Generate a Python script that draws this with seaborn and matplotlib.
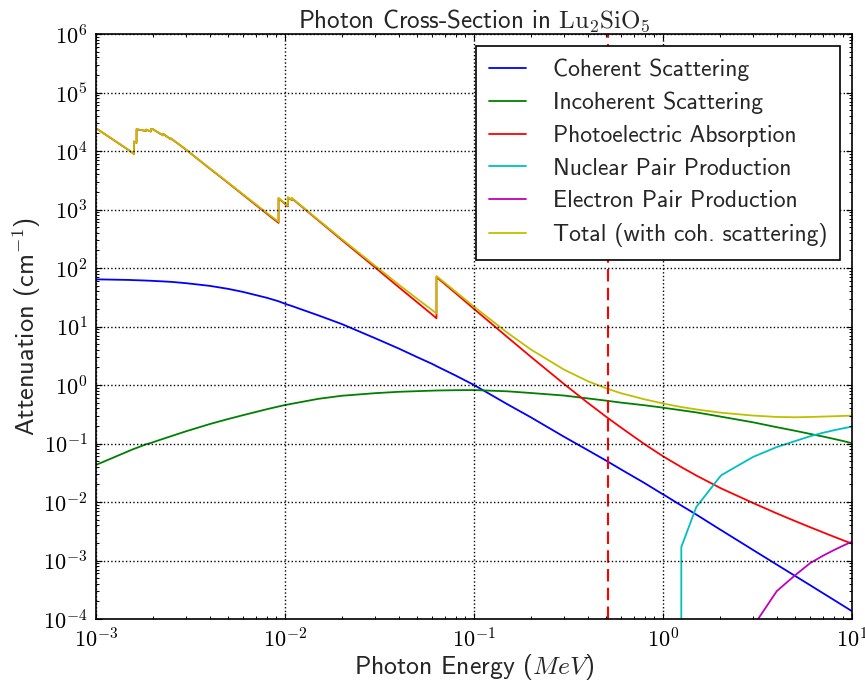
import numpy as np
import pandas as pd
import seaborn as sns
import matplotlib
matplotlib.use("Agg")
import matplotlib.pyplot as plt
from matplotlib.ticker import LogLocator, NullFormatter, FuncFormatter

# ---------------- data ----------------
energy = [1.000e-3, 1.500e-3, 1.588e-3, 1.588e-3, 1.639e-3, 1.639e-3, 1.839e-3, 1.839e-3,
          1.950e-3, 1.950e-3, 2.000e-3, 2.263e-3, 2.263e-3, 2.491e-3, 2.491e-3, 3.000e-3,
          4.000e-3, 5.000e-3, 6.000e-3, 8.000e-3, 9.244e-3, 9.244e-3, 1.000e-2, 1.035e-2,
          1.035e-2, 1.087e-2, 1.087e-2, 1.500e-2, 2.000e-2, 3.000e-2, 4.000e-2, 5.000e-2,
          6.000e-2, 6.331e-2, 6.331e-2, 8.000e-2, 0.1, 0.15, 0.2, 0.3, 0.4, 0.5, 0.6, 0.8,
          1.0, 1.022, 1.25, 1.5, 2.0, 2.044, 3.0, 4.0, 5.0, 6.0, 7.0, 8.0, 9.0, 10.0]

coherent = [64, 62.5, 62, 62, 61.8, 61.8, 61, 61, 60.5, 60.5, 60.2, 59, 59, 58, 58, 55,
            49.5, 44, 39, 31, 27, 27, 24.5, 23.6, 23.6, 22.4, 22.4, 15.5, 11, 6.3, 4.2, 3.0,
            2.3, 2.1, 2.1, 1.45, 1.0, 0.47, 0.28, 0.13, 0.077, 0.051, 0.036, 0.021,
            0.0135, 0.0130, 0.0087, 0.0061, 0.0034, 0.00326, 0.00151, 0.00085, 0.000545,
            0.000379, 0.000278, 0.000213, 0.000168, 0.000136]

incoherent = [0.043, 0.075, 0.081, 0.081, 0.084, 0.084, 0.097, 0.097, 0.102, 0.102, 0.105,
              0.12, 0.12, 0.133, 0.133, 0.162, 0.215, 0.262, 0.305, 0.385, 0.429, 0.429,
              0.455, 0.464, 0.464, 0.478, 0.478, 0.58, 0.655, 0.725, 0.765, 0.785, 0.80,
              0.805, 0.805, 0.815, 0.82, 0.78, 0.73, 0.66, 0.59, 0.54, 0.50, 0.45, 0.41,
              0.405, 0.37, 0.34, 0.29, 0.286, 0.23, 0.19, 0.165, 0.146, 0.132, 0.12, 0.11,
              0.101]

photoelectric = [2.45e4, 1.02e4, 8.9e3, 1.45e4, 1.38e4, 2.35e4, 2.2e4, 2.32e4, 2.15e4, 2.38e4,
                 2.35e4, 1.85e4, 1.97e4, 1.58e4, 1.64e4, 1.05e4, 5.0e3, 2.85e3, 1.78e3, 850,
                 590, 1550, 1250, 1130, 1600, 1450, 1550, 650, 300, 102, 47, 26, 16, 13.8, 70,
                 37, 20, 6.6, 3.03, 1.036, 0.496, 0.287, 0.187, 0.097, 0.0605, 0.058, 0.0395,
                 0.0284, 0.0175, 0.0169, 0.0096, 0.00638, 0.00472, 0.00371, 0.00304,
                 0.00256, 0.00221, 0.00194]

total = [2.456e4, 1.026e4, 8962, 14562, 13862, 23562, 22061, 23261, 21561, 23861, 23560,
         18559, 19759, 15858, 16458, 10555, 5050, 2894, 1819, 881, 617.5, 1577.5, 1275,
         1154, 1624, 1473, 1573, 666, 311.6, 109, 51.95, 29.78, 19.1, 16.7, 72.9, 39.3,
         21.8, 7.85, 4.04, 1.826, 1.163, 0.878, 0.723, 0.568, 0.484, 0.476, 0.4199,
         0.3827, 0.3379, 0.3352, 0.3002, 0.2845, 0.2808, 0.2840, 0.2885, 0.2923, 0.2962,
         0.2992]

pair_energy = [1.022, 1.25, 1.5, 2.0, 2.044, 3.0, 4.0, 5.0, 6.0, 7.0, 8.0, 9.0, 10.0]
nuclear_pair = [0.0, 1.7e-3, 8.2e-3, 0.027, 0.029, 0.059, 0.087, 0.11, 0.133, 0.152,
                0.168, 0.182, 0.194]
electron_pair = [0.0, 0.0, 0.0, 0.0, 0.0, 7.5e-5, 3.0e-4, 5.6e-4, 9.0e-4, 1.2e-3,
                 1.5e-3, 1.8e-3, 2.1e-3]

annihilation_energy = 0.511

series = [
    ("Coherent Scattering", energy, coherent, (0, 0, 1)),
    ("Incoherent Scattering", energy, incoherent, (0, 0.5, 0)),
    ("Photoelectric Absorption", energy, photoelectric, (1, 0, 0)),
    ("Nuclear Pair Production", pair_energy, nuclear_pair, (0, 0.75, 0.75)),
    ("Electron Pair Production", pair_energy, electron_pair, (0.75, 0, 0.75)),
    ("Total (with coh. scattering)", energy, total, (0.75, 0.75, 0)),
]

# ---------------- style ----------------
sns.set_style("white")
plt.rcParams.update({
    "font.family": ["cmss10", "DejaVu Sans"],
    "mathtext.fontset": "cm",
    "axes.unicode_minus": False,
    "axes.edgecolor": "black",
    "axes.linewidth": 1.2,
    "xtick.direction": "in",
    "ytick.direction": "in",
    "xtick.top": True,
    "ytick.right": True,
    "xtick.bottom": True,
    "ytick.left": True,
    "xtick.major.size": 4.5,
    "ytick.major.size": 4.5,
    "xtick.minor.size": 2.5,
    "ytick.minor.size": 2.5,
    "xtick.major.width": 0.8,
    "ytick.major.width": 0.8,
    "xtick.minor.width": 0.7,
    "ytick.minor.width": 0.7,
    "xtick.color": "black",
    "ytick.color": "black",
})

fig = plt.figure(figsize=(8.65, 6.82), dpi=100)
ax = fig.add_axes([96 / 865, 1 - 619 / 682, (852 - 96) / 865, (619 - 34) / 682])
ax.set_xscale("log", nonpositive="clip")
ax.set_yscale("log", nonpositive="clip")

for name, xs, ys, col in series:
    df = pd.DataFrame({"energy": xs, "value": ys})
    sns.lineplot(data=df, x="energy", y="value", color=col, linewidth=1.3,
                 estimator=None, sort=False, label=name, ax=ax)

ax.axvline(annihilation_energy, color=(1, 0, 0), linestyle="--", linewidth=1.5,
           dashes=(6, 3))

ax.set_xlim(1e-3, 10)
ax.set_ylim(1e-4, 1e6)

fmt = FuncFormatter(lambda v, p: r"$\mathsf{10^{%d}}$" % int(round(np.log10(v))))
for axis in (ax.xaxis, ax.yaxis):
    axis.set_major_locator(LogLocator(base=10, numticks=20))
    axis.set_minor_locator(LogLocator(base=10, subs=np.arange(2, 10), numticks=20))
    axis.set_minor_formatter(NullFormatter())
    axis.set_major_formatter(fmt)
ax.tick_params(axis="both", which="major", labelsize=16, pad=6)

ax.grid(True, which="major", color="black", linestyle=":", linewidth=1.0)
ax.set_axisbelow(False)

ax.set_title(r"Photon Cross-Section in $\mathrm{Lu_2SiO_5}$", fontsize=18, pad=4)
ax.set_xlabel(r"Photon Energy ($MeV$)", fontsize=18.5, labelpad=0)
ax.set_ylabel(r"Attenuation (cm$^{-1}$)", fontsize=19, labelpad=0)

leg = ax.legend(loc="upper right", fontsize=17, frameon=True, fancybox=False,
                framealpha=1.0, edgecolor="black", handlelength=1.55,
                handletextpad=1.15, labelspacing=0.45, borderpad=0.55,
                borderaxespad=0.5)
leg.get_frame().set_linewidth(1.2)

fig.savefig("out.png", dpi=100)
